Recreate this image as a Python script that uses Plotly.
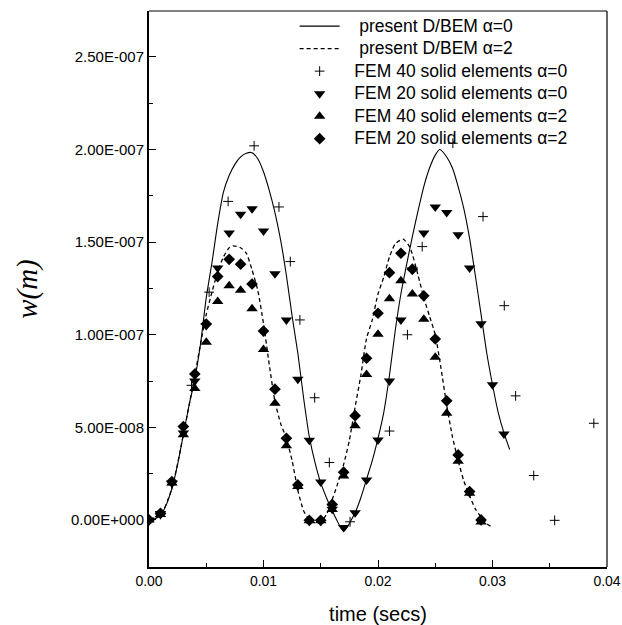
import plotly.graph_objects as go

# ---------------- data (time in ms, deflection in 1e-9 m) ----------------
bem0_t = [0, 0.5, 1, 1.5, 2, 2.5, 3, 3.5, 4, 4.5, 5, 5.5, 6, 6.5, 7, 7.5, 8, 8.5, 9, 9.5,
          10, 10.5, 11, 11.5, 12, 12.5, 13, 13.5, 14, 14.5, 15, 15.5, 16, 17,
          18, 18.5, 19, 19.5, 20, 20.5, 21, 21.5, 22, 22.5, 23, 23.5, 24, 24.5, 25, 25.4,
          26, 26.5, 27, 27.5, 28, 28.5, 29, 29.5, 30, 30.5, 31, 31.5]
bem0_w = [0, 0.6, 2.5, 8, 17, 30, 46, 62, 76, 95, 120, 139, 160, 177, 186, 192, 196, 198, 198.3, 195,
          188, 178, 166, 151, 132, 110, 90, 66, 45, 31, 20, 12, 5, -6,
          4, 12, 22, 32, 44, 58, 78, 102, 122, 138, 153, 167, 180, 190, 197, 200,
          196, 190, 180, 168, 152, 132, 111, 90, 73, 58, 47, 38]

bem2_t = [0, 1, 2, 3, 4, 4.5, 5, 5.5, 6, 6.5, 7, 7.35, 8, 8.5, 9, 9.5, 10, 10.5, 11, 11.5,
          12, 12.5, 13, 13.5, 14, 14.5, 15, 15.5, 16, 16.5, 17, 17.5, 18, 18.5, 19, 19.5,
          20, 20.5, 21, 21.5, 22.2, 22.8, 23.5, 24, 24.5, 25, 25.5, 26, 26.5, 27, 27.5,
          28, 28.5, 29, 29.5, 30]
bem2_w = [0, 2.5, 17, 46, 78, 95, 111, 123, 134, 142, 147, 148, 147, 144, 135, 124, 106, 84, 64, 52,
          44, 32, 16, 5, 0, -1.5, -1, 3, 11, 20, 30, 43, 61, 78, 98, 108,
          122, 131, 142, 149, 151.6, 147, 132, 120, 110, 100, 82, 62, 45, 32, 21,
          13, 6, 1.5, -2, -4]

fem40_a0_t = [0, 1, 2, 3.71, 5.25, 6.91, 9.18, 11.35, 12.34, 13.18, 14.47, 15.75, 17.56, 21.0,
              22.57, 23.86, 26.54, 29.17, 31.03, 32.02, 33.6, 35.43, 38.85]
fem40_a0_w = [0, 3, 19, 72.7, 123, 172, 202, 169, 139.5, 108, 66, 31, -1, 48,
              100, 147.6, 203.4, 163.8, 115.7, 67, 24, -0.2, 52.2]

fem20_a0_t = list(range(0, 32))
fem20_a0_w = [0, 3.5, 20, 47, 75, 105, 136, 155, 165, 168, 156, 133, 108, 76, 43, 20.5,
              5.8, -4.1, 3.9, 21.6, 43.2, 75, 108, 135, 155, 169, 166, 154, 136, 106, 73, 46.4]

fem40_a2_t = list(range(0, 30))
fem40_a2_w = [0, 3, 20, 46, 71, 96, 118, 126.5, 124, 114, 92, 63, 40, 18, -0.4, -0.4,
              5.6, 23.8, 50.8, 78.5, 100.3, 119.5, 129.2, 122, 108.3, 87.8, 57.6, 31.7, 14.4, -1.1]

fem20_a2_t = list(range(0, 30))
fem20_a2_w = [0, 3.6, 20.7, 50.4, 78.8, 105.8, 131.4, 140.7, 138.1, 127.4, 102, 70.6, 44.1, 18.9,
              -0.2, -0.2, 8.4, 25.8, 56.3, 87.3, 111.6, 133.5, 144, 135.4, 121, 97.7, 64.3, 35.1, 15.3, 0]

y_tickvals = [0, 5e-8, 1e-7, 1.5e-7, 2e-7, 2.5e-7]
y_ticktext = ["0.00E+000", "5.00E-008", "1.00E-007", "1.50E-007", "2.00E-007", "2.50E-007"]
y_minorvals = [2.5e-8, 7.5e-8, 1.25e-7, 1.75e-7, 2.25e-7]
x_tickvals = [0, 0.01, 0.02, 0.03, 0.04]
x_ticktext = ["0.00", "0.01", "0.02", "0.03", "0.04"]
x_minorvals = [0.005, 0.015, 0.025, 0.035]

names = ["present D/BEM \u03b1=0", "present D/BEM \u03b1=2",
         "FEM 40 solid elements \u03b1=0", "FEM 20 solid elements \u03b1=0",
         "FEM 40 solid elements \u03b1=2", "FEM 20 solid elements \u03b1=2"]
indent = [3, 3, 2, 2, 2, 2]

ms = lambda a: [v / 1000 for v in a]
u9 = lambda a: [v * 1e-9 for v in a]
label = lambda i: '<span style="font-size:17.5px">' + "\u00a0" * indent[i] + names[i] + '</span>'

fig = go.Figure()
fig.add_trace(go.Scatter(x=ms(bem0_t), y=u9(bem0_w), mode="lines", name=label(0),
                         line=dict(color="black", width=1.1, shape="spline", smoothing=0.6)))
fig.add_trace(go.Scatter(x=ms(bem2_t), y=u9(bem2_w), mode="lines", name=label(1),
                         line=dict(color="black", width=1.3, dash="4px,3px", shape="spline", smoothing=0.6)))
fig.add_trace(go.Scatter(x=ms(fem40_a0_t), y=u9(fem40_a0_w), mode="markers", name=label(2),
                         marker=dict(symbol="cross-thin-open", size=7, color="black",
                                     line=dict(color="black", width=1))))
fig.add_trace(go.Scatter(x=ms(fem20_a0_t), y=u9(fem20_a0_w), mode="markers", name=label(3),
                         marker=dict(symbol="triangle-down", size=10, color="black", line=dict(width=0))))
fig.add_trace(go.Scatter(x=ms(fem40_a2_t), y=u9(fem40_a2_w), mode="markers", name=label(4),
                         marker=dict(symbol="triangle-up", size=10, color="black", line=dict(width=0))))
fig.add_trace(go.Scatter(x=ms(fem20_a2_t), y=u9(fem20_a2_w), mode="markers", name=label(5),
                         marker=dict(symbol="diamond", size=9, color="black", line=dict(width=0))))

axis_font = dict(family="Liberation Sans, Arial, sans-serif", color="black")

fig.update_layout(
    width=622, height=625,
    margin=dict(l=149, r=15, t=11, b=58, autoexpand=False),
    paper_bgcolor="white", plot_bgcolor="white",
    showlegend=True,
    legend=dict(x=0.318, y=1.002, xanchor="left", yanchor="top",
                bgcolor="rgba(0,0,0,0)", borderwidth=0,
                font=dict(family="Liberation Sans, Arial, sans-serif", size=15, color="black"),
                itemwidth=40, tracegroupgap=0),
    xaxis=dict(range=[0, 0.04], tickvals=x_tickvals, ticktext=x_ticktext, automargin=False,
               ticks="inside", ticklen=7, tickwidth=1.3, tickcolor="black",
               showline=True, linewidth=2, linecolor="black", showgrid=False, zeroline=False,
               tickfont=dict(size=14, **axis_font),
               minor=dict(tickvals=x_minorvals, ticks="inside", ticklen=4,
                          tickwidth=1.3, tickcolor="black", showgrid=False),
               title=dict(text="time (secs)", font=dict(size=20, **axis_font), standoff=19)),
    yaxis=dict(range=[-2.54e-8, 2.748e-7], tickvals=y_tickvals, ticktext=y_ticktext, automargin=False,
               ticks="inside", ticklen=7, tickwidth=1.3, tickcolor="black",
               showline=True, linewidth=2, linecolor="black", showgrid=False, zeroline=False,
               tickfont=dict(size=15, **axis_font),
               minor=dict(tickvals=y_minorvals, ticks="inside", ticklen=4,
                          tickwidth=1.3, tickcolor="black", showgrid=False),
               title=dict(text="<i>w(m)</i>",
                          font=dict(family="Liberation Serif, Times New Roman, serif", size=29, color="black"),
                          standoff=25)),
)
# top & right frame lines
fig.add_shape(type="line", xref="x domain", yref="y domain", x0=0, x1=1, y0=1, y1=1,
              line=dict(color="black", width=1.2))
fig.add_shape(type="line", xref="x domain", yref="y domain", x0=1, x1=1, y0=0, y1=1,
              line=dict(color="black", width=1.2))

fig.write_html("out.html", config={"displayModeBar": False},
               post_script="document.body.style.margin='0';")
